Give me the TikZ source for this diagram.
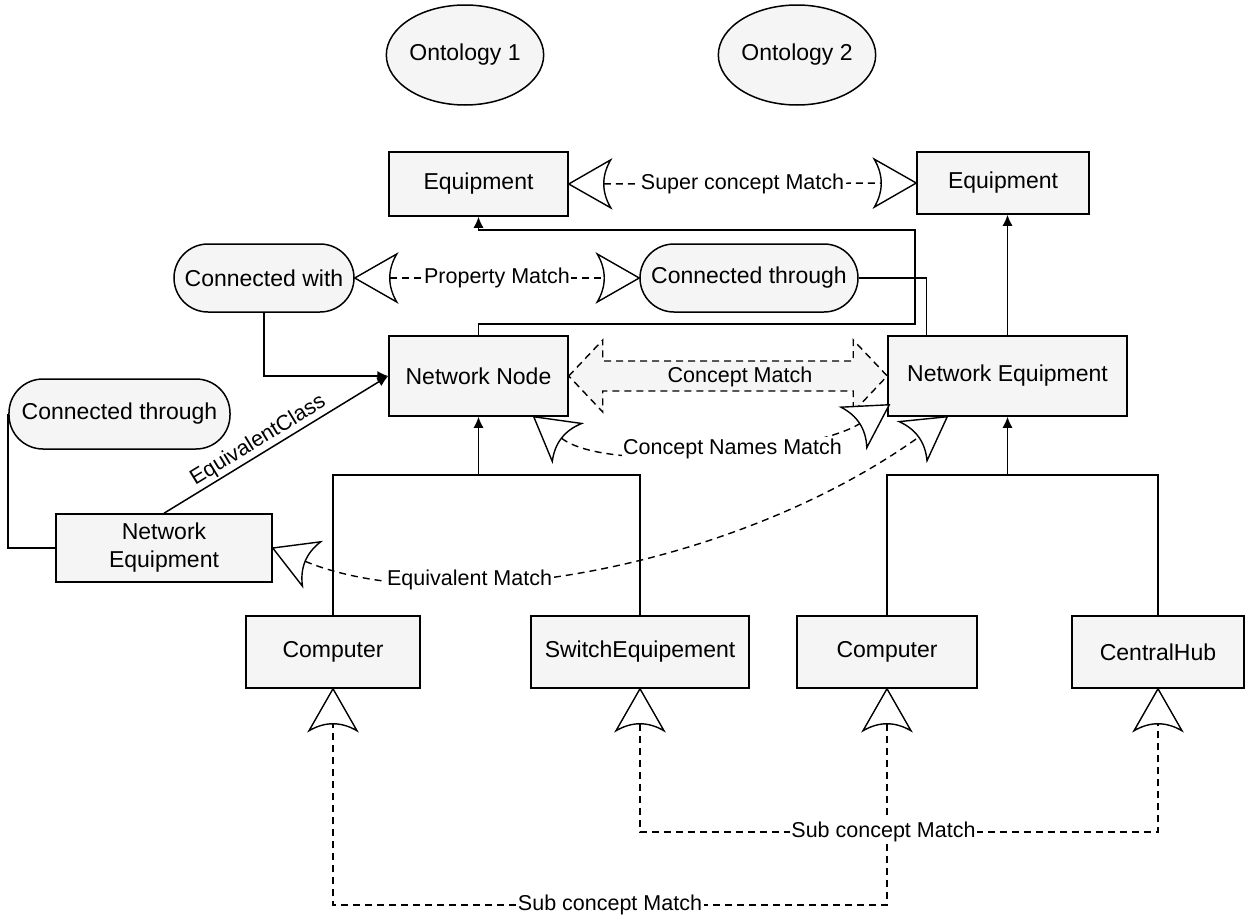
\documentclass[tikz,border=0pt]{standalone}
\usepackage{fontspec}
\setmainfont{Liberation Sans}
\usetikzlibrary{arrows.meta,calc,shapes.geometric}

% open triangular head with a curved (inward) back, drawn solid and white-filled
\pgfdeclarearrow{
  name = Cup,
  setup code = {
    \pgfarrowssettipend{0bp}
    \pgfarrowssetbackend{-42bp}
    \pgfarrowssetlineend{-35bp}
  },
  drawing code = {
    \pgfsetdash{}{0pt}
    \pgfsetmiterjoin
    \pgfpathmoveto{\pgfpointorigin}
    \pgfpathlineto{\pgfpoint{-42bp}{24bp}}
    \pgfpathquadraticcurveto{\pgfpoint{-28bp}{0bp}}{\pgfpoint{-42bp}{-24bp}}
    \pgfpathclose
    \pgfsetfillcolor{white}
    \pgfusepathqfillstroke
  }
}

\begin{document}
\begin{tikzpicture}[x=1bp, y=-1bp,
  every node/.style={font=\fontsize{23bp}{28bp}\selectfont, inner sep=0pt},
  box/.style n args={2}{draw, fill=black!4, line width=1.5bp,
    minimum width=#1bp, minimum height=#2bp, align=center},
  stadium/.style n args={2}{draw, fill=black!4, line width=1.5bp,
    rounded corners=34bp, minimum width=#1bp, minimum height=#2bp},
  onto/.style={ellipse, draw, fill=black!4, line width=1.5bp,
    minimum width=154bp, minimum height=100bp},
  lbl/.style={font=\fontsize{21.5bp}{24bp}\selectfont, fill=white, inner sep=1.5bp},
  rel/.style={line width=1.5bp},
  relarrow/.style={rel, -{Latex[length=11bp,width=10bp]}},
  match/.style={line width=1.4bp, dash pattern=on 7bp off 5bp, arrows={Cup-Cup}},
  blockarrow/.style={fill=black!4, line width=1.4bp, dash pattern=on 7bp off 5bp}
]
\useasboundingbox (0,0) rectangle (1246,915);

% ontologies
\node[onto] (o1) at (465,55) {Ontology 1};
\node[onto] (o2) at (797,55) {Ontology 2};

% concepts and properties
\node[box={179}{64}] (eqL) at (478.5,184) {Equipment};
\node[box={172}{62}] (eqR) at (1003,183) {Equipment};
\node[stadium={180}{68}] (cw) at (264,278) {Connected with};
\node[stadium={218}{68}] (ctR) at (749,278) {Connected through};
\node[box={179}{80}] (nn) at (478.5,376) {Network Node};
\node[box={239}{80}] (ne) at (1007.5,376) {Network Equipment};
\node[stadium={221}{70}] (ctL) at (119.5,414) {Connected through};
\node[box={216}{68}] (neL) at (164,548) {Network\\Equipment};
\node[box={174}{72}] (cL) at (333,652) {Computer};
\node[box={218}{72}] (sw) at (640,652) {SwitchEquipement};
\node[box={180}{72}] (cR) at (887,652) {Computer};
\node[box={172}{72}] (ch) at (1158,652) {CentralHub};

% helper levels
\coordinate (r1) at (915,324);
\coordinate (r2) at (915,230);
\coordinate (h1) at (0,475);
\coordinate (y1) at (0,832);
\coordinate (y2) at (0,905);

% hierarchy and property links
\draw[relarrow] (nn.north) |- (r1) -- (r2) -| (eqL.south);
\draw[rel] (ctR.east) -| ($(ne.north west)+(39,0)$);
\draw[relarrow] (ne.north) -- (ne.north |- eqR.south);
\draw[relarrow] (cw.south) |- (nn.west);
\draw[relarrow] (neL.north) -- node[sloped, above, pos=0.45, inner sep=2bp,
  font=\fontsize{21.5bp}{24bp}\selectfont] {EquivalentClass} (nn.west);
\draw[rel] (ctL.west) |- (neL.west);
\draw[rel] (cL.north) |- (sw.north |- h1) -- (sw.north);
\draw[relarrow] (nn.south |- h1) -- (nn.south);
\draw[rel] (cR.north) |- (ch.north |- h1) -- (ch.north);
\draw[relarrow] (ne.south |- h1) -- (ne.south);

% concept match block arrow
\draw[blockarrow] (nn.east) -- ($(nn.east)+(34,-36)$) -- ($(nn.east)+(34,-15)$)
  -- ($(ne.west)+(-34,-15)$) -- ($(ne.west)+(-34,-36)$) -- (ne.west)
  -- ($(ne.west)+(-34,36)$) -- ($(ne.west)+(-34,15)$)
  -- ($(nn.east)+(34,15)$) -- ($(nn.east)+(34,36)$) -- cycle;
\node[font=\fontsize{21.5bp}{24bp}\selectfont] (cmlbl)
  at ($($(nn.east)!0.5!(ne.west)$)+(12,1)$) {Concept Match};

% matches
\draw[match] (eqL.east) -- node[lbl] {Super concept Match} (eqR.west);
\draw[match] (cw.east) -- node[lbl] {Property Match} (ctR.west);
\draw[match] ($(nn.south east)+(-35,0)$) .. controls +(75,58) and +(-75,48) ..
  node[lbl, pos=0.55] {Concept Names Match} ($(ne.south west)+(2,-12)$);
\draw[match] (neL.east) .. controls +(175,72) and +(-210,150) ..
  node[lbl, pos=0.32] {Equivalent Match} ($(ne.south west)+(60,0)$);
\draw[match] (cR.south) -- (cR.south |- y2) -- node[lbl] {Sub concept Match}
  (cL.south |- y2) -- (cL.south);
\draw[match] (sw.south) -- (sw.south |- y1) -- node[lbl, pos=0.47] {Sub concept Match}
  (ch.south |- y1) -- (ch.south);
\end{tikzpicture}
\end{document}
